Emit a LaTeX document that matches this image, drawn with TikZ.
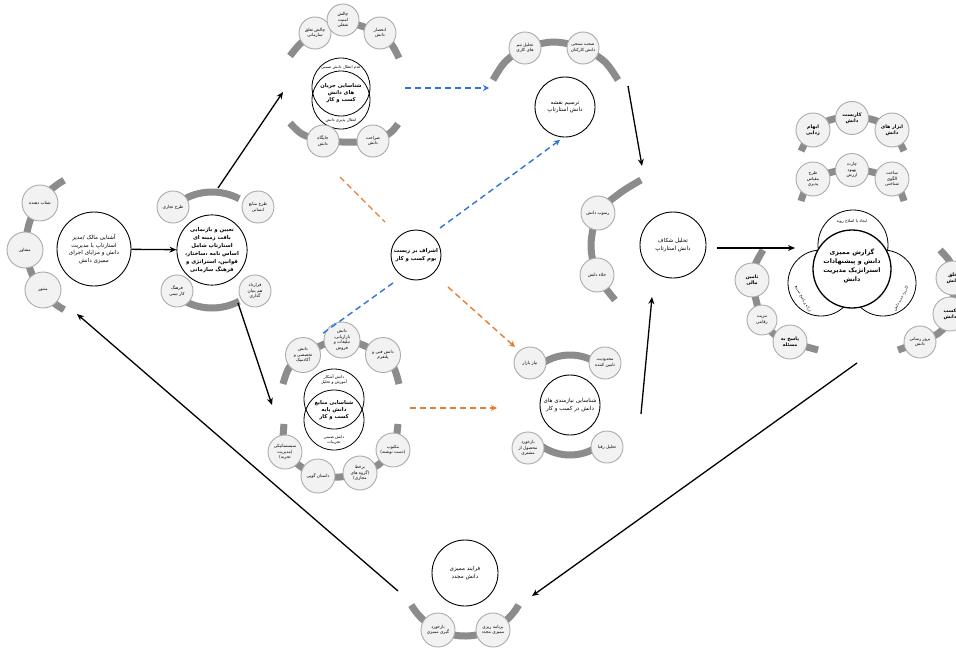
\documentclass[tikz,border=0pt]{standalone}
\usepackage{fontspec}
\newfontfamily\arabicfont[Script=Arabic]{DejaVu Sans}
\TeXXeTstate=1
\usetikzlibrary{arrows.meta}
\newcommand\RL[1]{\beginR #1\endR}
\definecolor{bandgray}{HTML}{8C8C8C}
\definecolor{subfill}{HTML}{F2F2F2}
\definecolor{subline}{HTML}{ABABAB}
\definecolor{dblue}{HTML}{2F73D8}
\definecolor{dorange}{HTML}{E67E30}
\begin{document}
\begin{tikzpicture}[x=1pt,y=-1pt,
 mainc/.style={circle,draw=black,line width=0.9pt,fill=white,align=center,inner sep=0pt,font=\arabicfont\fontsize{5.6}{7.8}\selectfont},
 boldc/.style={mainc,font=\arabicfont\bfseries\fontsize{5.4}{8}\selectfont},
 subc/.style={circle,draw=subline,line width=0.9pt,fill=subfill,minimum size=34pt,align=center,inner sep=0pt,font=\arabicfont\fontsize{4.3}{5.5}\selectfont},
 subb/.style={subc,font=\arabicfont\bfseries\fontsize{4.8}{6.2}\selectfont},
 vc/.style={circle,draw=black,line width=0.8pt,inner sep=0pt},
 lab/.style={align=center,inner sep=0pt,font=\arabicfont\fontsize{4}{5}\selectfont},
 labb/.style={align=center,inner sep=0pt,font=\arabicfont\bfseries\fontsize{5.3}{7.3}\selectfont},
 band/.style={draw=bandgray,line width=7pt},
 arr/.style={draw=black,line width=1.3pt,-{Stealth[length=7pt,width=6pt]}},
 bdash/.style={draw=dblue,line width=1.4pt,dash pattern=on 6pt off 4pt},
 odash/.style={draw=dorange,line width=1.4pt,dash pattern=on 6pt off 4pt},
 bdarr/.style={bdash,-{Stealth[length=6pt,width=6pt]}},
 odarr/.style={odash,-{Stealth[length=6pt,width=6pt]}}
]
\useasboundingbox (0,0) rectangle (956,653);
\fill[white] (0,0) rectangle (956,653);

% ---------------- bands ----------------
\draw[band] (100,245) ++(119:74) arc[start angle=119,end angle=241,radius=74];
\draw[band] (212,250) ++(-118:58) arc[start angle=-118,end angle=-62,radius=58];
\draw[band] (212,250) ++(62:58) arc[start angle=62,end angle=118,radius=58];
\draw[band] plot[smooth] coordinates {(290,56) (300,44) (315,33) (343,22) (380,33) (392,45) (399,58)};
\draw[band] plot[smooth] coordinates {(290,123) (302,134) (323,141) (348,142) (373,141) (390,133) (398,124)};
\draw[band] plot[smooth] coordinates {(493,80) (505,62) (525,48) (554,42) (583,48) (605,62) (618,80)};
\draw[band] plot[smooth] coordinates {(283,384) (289,368) (303,355) (342,339) (383,355) (394,368) (399,384)};
\draw[band] plot[smooth] coordinates {(398,424) (396,440) (393,450) (378,465) (360,473) (340,477) (318,476) (300,466) (285,452) (283,440) (284,424)};
\draw[band] (570,405) ++(-125:50) arc[start angle=-125,end angle=-55,radius=50];
\draw[band] (570,405) ++(55:50) arc[start angle=55,end angle=125,radius=50];
\draw[band] plot[smooth] coordinates {(641,180) (620,193) (598,213) (591,245) (597,275) (615,300)};
\draw[band] plot[smooth] coordinates {(801,151) (813,130) (830,120) (852,117) (874,120) (892,130) (904,151)};
\draw[band] plot[smooth] coordinates {(801,201) (813,179) (852,169) (892,179) (904,201)};
\draw[band] plot[smooth] coordinates {(763,250) (755,265) (752,280) (756,300) (762,320) (775,335) (790,342) (818,350)};
\draw[band] plot[smooth] coordinates {(940,250) (950,262) (953,278) (952,314) (940,332) (920,342) (898,350)};
\draw[band] (465,574) ++(30:62) arc[start angle=30,end angle=150,radius=62];

% ---------------- cluster 1 ----------------
\node[mainc,minimum size=74pt] (c1m) at (94,249) {\RL{آشنایی مالک /مدیر}\\\RL{استارتاپ با مدیریت}\\\RL{دانش و مزایای اجرای}\\\RL{ممیزی دانش}};
\node[subc,minimum size=36pt] (c1a) at (40,203) {\RL{شتاب دهنده}};
\node[subc,minimum size=36pt] (c1b) at (25,250) {\RL{مشاور}};
\node[subc,minimum size=36pt] (c1c) at (43,290) {\RL{منتور}};

% ---------------- cluster 2 ----------------
\node[boldc,minimum size=66pt] (c2m) at (212,250) {\RL{تعیین و بازنمایی}\\\RL{بافت زمینه ای}\\\RL{استارتاپ شامل}\\\RL{اساس نامه ،ساختار،}\\\RL{قوانین، استراتژی و}\\\RL{فرهنگ سازمانی}};
\node[subc,minimum size=32pt] (c2a) at (173,207) {\RL{طرح تجاری}};
\node[subc,minimum size=32pt] (c2b) at (258,207) {\RL{طرح منابع}\\\RL{انسانی}};
\node[subc,minimum size=32pt] (c2c) at (177,291) {\RL{فرهنگ}\\\RL{کار تیمی}};
\node[subc,minimum size=32pt] (c2d) at (255,291) {\RL{قرارداد}\\\RL{هم بنیان}\\\RL{گذاری}};

% ---------------- cluster 3 (top) ----------------
\node[vc,minimum size=58pt] (c3u) at (341,87) {};
\node[vc,minimum size=58pt] (c3d) at (341,100) {};
\node[lab] (c3ut) at (341,67) {\RL{عدم انتقال دانش ضمنی}};
\node[labb] (c3mt) at (341,93) {\RL{شناسایی جریان}\\\RL{های دانش}\\\RL{کسب و کار}};
\node[lab] (c3dt) at (341,120) {\RL{انتقال پذیری دانش}};
\node[subc,minimum size=32pt] (c3a) at (315,33) {\RL{چالش تعلق}\\\RL{سازمانی}};
\node[subc,minimum size=32pt] (c3b) at (343,20) {\RL{چالش}\\\RL{امنیت}\\\RL{شغلی}};
\node[subc,minimum size=32pt] (c3c) at (380,33) {\RL{انحصار}\\\RL{دانش}};
\node[subc,minimum size=32pt] (c3d1) at (323,141) {\RL{جایگاه}\\\RL{دانش}};
\node[subc,minimum size=32pt] (c3e) at (373,141) {\RL{صراحت}\\\RL{دانش}};

% ---------------- cluster 4 ----------------
\node[mainc,minimum size=60pt] (c4m) at (565,107) {\RL{ترسیم نقشه}\\\RL{دانش استارتاپ}};
\node[subc,minimum size=32pt] (c4a) at (525,48) {\RL{تحلیل تیم}\\\RL{های کاری}};
\node[subc,minimum size=32pt] (c4b) at (583,48) {\RL{صحت سنجی}\\\RL{دانش کارکنان}};

% ---------------- centre ----------------
\node[boldc,minimum size=50pt] (cen) at (416,255) {\RL{اشراف بر زیست}\\\RL{بوم کسب و کار}};

% ---------------- cluster 6 ----------------
\node[vc,minimum size=60pt] (c6u) at (334,399) {};
\node[vc,minimum size=60pt] (c6d) at (334,420) {};
\node[lab] (c6ut) at (334,380) {\RL{دانش آشکار}\\\RL{آموزش و تحلیل}};
\node[labb] (c6mt) at (334,410) {\RL{شناسایی منابع}\\\RL{دانش پایه}\\\RL{کسب و کار}};
\node[lab] (c6dt) at (334,440) {\RL{دانش ضمنی}\\\RL{تجربیات}};
\node[subc,minimum size=35pt] (c6a) at (303,355) {\RL{دانش}\\\RL{تخصصی و}\\\RL{آکادمیک}};
\node[subc,minimum size=36pt] (c6b) at (342,340) {\RL{دانش}\\\RL{بازاریابی،}\\\RL{تبلیغات و}\\\RL{فروش}};
\node[subc,minimum size=35pt] (c6c) at (383,355) {\RL{دانش فنی و}\\\RL{پلتفرم}};
\node[subc,minimum size=34pt] (c6d1) at (393,450) {\RL{مکتوب}\\\RL{(دست نوشته)}};
\node[subc,minimum size=34pt] (c6e) at (360,473) {\RL{برخط}\\\RL{(گروه های}\\\RL{مجازی)}};
\node[subc,minimum size=34pt] (c6f) at (318,476) {\RL{داستان گویی}};
\node[subc,minimum size=34pt] (c6g) at (285,452) {\RL{سیستماتیکی}\\\RL{(مدیریت}\\\RL{تجربه)}};

% ---------------- cluster 7 ----------------
\node[mainc,minimum size=60pt] (c7m) at (570,405) {\RL{شناسایی نیازمندی های}\\\RL{دانش در کسب و کار}};
\node[subc,minimum size=32pt] (c7a) at (530,363) {\RL{نیاز بازار}};
\node[subc,minimum size=32pt] (c7b) at (605,363) {\RL{محدودیت}\\\RL{تامین کننده}};
\node[subc,minimum size=32pt] (c7c) at (528,448) {\RL{بازخورد}\\\RL{محصول از}\\\RL{مشتری}};
\node[subc,minimum size=32pt] (c7d) at (607,447) {\RL{تحلیل رقبا}};

% ---------------- cluster 8 ----------------
\node[mainc,minimum size=66pt] (c8m) at (673,245) {\RL{تحلیل شکاف}\\\RL{دانش استارتاپ}};
\node[subc,minimum size=34pt] (c8a) at (598,213) {\RL{رسوب دانش}};
\node[subc,minimum size=34pt] (c8b) at (597,275) {\RL{خلاء دانش}};

% ---------------- far right top ----------------
\node[subb,minimum size=34pt] (r1a) at (813,130) {\RL{ابهام}\\\RL{زدایی}};
\node[subb,minimum size=33pt] (r1b) at (852,118) {\RL{کاربست}\\\RL{دانش}};
\node[subb,minimum size=34pt] (r1c) at (892,130) {\RL{ابزار های}\\\RL{دانش}};
\node[subc,minimum size=34pt] (r2a) at (813,179) {\RL{طرح}\\\RL{مقیاس}\\\RL{پذیری}};
\node[subc,minimum size=33pt] (r2b) at (852,170) {\RL{چارت}\\\RL{بهبود}\\\RL{ارزش}};
\node[subc,minimum size=34pt] (r2c) at (892,179) {\RL{ساخت}\\\RL{الگوی}\\\RL{شناختی}};

% ---------------- big venn ----------------
\node[vc,fill=white,minimum size=70pt] (vt) at (853,245) {};
\node[vc,fill=white,minimum size=66pt] (vl) at (821,283) {};
\node[vc,fill=white,minimum size=66pt] (vr) at (883,283) {};
\node[circle,draw=black,line width=1.3pt,fill=white,minimum size=78pt,inner sep=0pt] (vm) at (852,269) {};
\node[lab] (vtt) at (852,221) {\RL{ایجاد یا اصلاح رویه}};
\node[align=center,inner sep=0pt,font=\arabicfont\bfseries\fontsize{6.3}{9}\selectfont] (vmt) at (852,266) {\RL{گزارش ممیزی}\\\RL{دانش و پیشنهادات}\\\RL{استراتژیک مدیریت}\\\RL{دانش}};
\node[lab,rotate=-62,font=\arabicfont\fontsize{3.8}{4.5}\selectfont] (vlt) at (803,299) {\RL{ارائه و پاسخ سریع}};
\node[lab,rotate=62,font=\arabicfont\fontsize{3.8}{4.5}\selectfont] (vrt) at (901,299) {\RL{کاربرد جدید دانش}};

% far right side groups
\node[subb,minimum size=34pt] (l1) at (752,280) {\RL{تامین}\\\RL{مالی}};
\node[subc,minimum size=30pt] (l2) at (762,320) {\RL{مزیت}\\\RL{رقابتی}};
\node[subb,minimum size=34pt] (l3) at (790,342) {\RL{پاسخ به}\\\RL{مسئله}};
\node[subb,minimum size=34pt] (q1) at (953,278) {\RL{خلق}\\\RL{دانش}};
\node[subb,minimum size=34pt] (q2) at (950,314) {\RL{کسب}\\\RL{دانش}};
\node[subc,minimum size=32pt] (q3) at (920,342) {\RL{بروز رسانی}\\\RL{دانش}};

% ---------------- bottom cluster ----------------
\node[mainc,minimum size=66pt] (c10m) at (465,573) {\RL{فرایند ممیزی}\\\RL{دانش مجدد}};
\node[subc,minimum size=34pt] (c10a) at (438,630) {\RL{بازخورد}\\\RL{گیری ممیزی}};
\node[subc,minimum size=34pt] (c10b) at (493,630) {\RL{برنامه ریزی}\\\RL{ممیزی مجدد}};

% ---------------- connector end points ----------------
\coordinate (p1) at (218,188);  \coordinate (p2) at (283,92);
\coordinate (p3) at (238,303);  \coordinate (p4) at (272,405);
\coordinate (p5) at (405,88);   \coordinate (p6) at (489,88);
\coordinate (p7) at (628,86);   \coordinate (p8) at (642,166);
\coordinate (p9) at (717,248);  \coordinate (p10) at (795,248);
\coordinate (p11) at (641,414); \coordinate (p12) at (652,297);
\coordinate (p13) at (857,363); \coordinate (p14) at (532,596);
\coordinate (p15) at (398,591); \coordinate (p16) at (77,314);
\coordinate (p17) at (440,228); \coordinate (p18) at (560,140);
\coordinate (p19) at (393,283); \coordinate (p20) at (322,334);
\coordinate (p21) at (340,177); \coordinate (p22) at (385,222);
\coordinate (p23) at (448,287); \coordinate (p24) at (515,347);
\coordinate (p25) at (410,408); \coordinate (p26) at (497,408);

% ---------------- connectors ----------------
\draw[arr] (c1m) -- (c2m);
\draw[arr] (p1) -- (p2);
\draw[arr] (p3) -- (p4);
\draw[bdarr] (p5) -- (p6);
\draw[arr] (p7) -- (p8);
\draw[arr] (p9) -- (p10);
\draw[arr] (p11) -- (p12);
\draw[arr] (p13) -- (p14);
\draw[arr] (p15) -- (p16);
\draw[bdarr] (p17) -- (p18);
\draw[bdash] (p19) -- (p20);
\draw[odash] (p21) -- (p22);
\draw[odarr] (p23) -- (p24);
\draw[odarr] (p25) -- (p26);
\end{tikzpicture}
\end{document}
